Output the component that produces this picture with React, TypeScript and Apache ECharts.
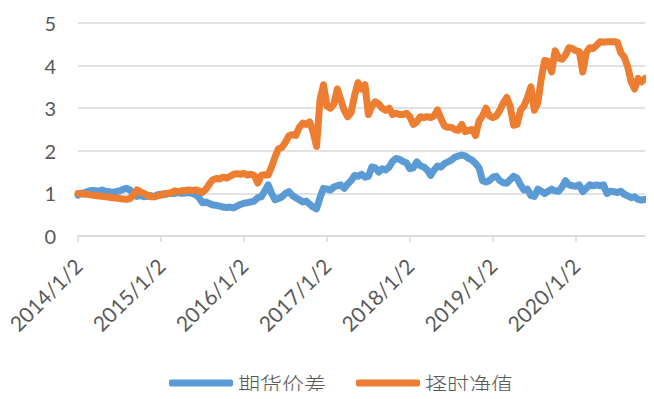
import React, { useEffect, useRef } from "react";
import * as echarts from "echarts";

const seriesNames = ["期货价差", "择时净值"];

// semi-monthly observation dates (2nd and 16th of each month), 2014/1/2 .. 2020/11/2
const startYear = 2014;
const pointCount = 165;
const dates: string[] = [];
for (let i = 0; i < pointCount; i++) {
  const y = startYear + Math.floor(i / 24);
  const m = Math.floor((i % 24) / 2) + 1;
  const d = i % 2 === 0 ? 2 : 16;
  dates.push(`${y}/${m}/${d}`);
}

const spread = [
  0.96, 1.0, 1.02, 1.05, 1.07, 1.06, 1.05, 1.08, 1.05, 1.04, 1.03, 1.04,
  1.06, 1.09, 1.12, 1.08, 1.0, 0.93, 0.95, 0.92, 0.93, 0.95, 0.92, 0.97,
  0.98, 0.97, 0.99, 1.0, 1.0, 1.02, 1.0, 1.01, 1.02, 1.0, 0.97, 0.9,
  0.78, 0.8, 0.76, 0.73, 0.72, 0.7, 0.68, 0.67, 0.68, 0.66, 0.7, 0.74,
  0.77, 0.78, 0.8, 0.82, 0.9, 0.92, 1.05, 1.2, 1.0, 0.85, 0.88, 0.92,
  1.0, 1.04, 0.95, 0.9, 0.85, 0.8, 0.82, 0.75, 0.68, 0.64, 0.9, 1.12,
  1.1, 1.08, 1.15, 1.18, 1.2, 1.12, 1.22, 1.3, 1.42, 1.4, 1.45, 1.38,
  1.4, 1.62, 1.6, 1.5, 1.58, 1.55, 1.62, 1.75, 1.82, 1.8, 1.75, 1.72,
  1.58, 1.6, 1.74, 1.65, 1.62, 1.55, 1.42, 1.55, 1.64, 1.62, 1.7, 1.74,
  1.78, 1.85, 1.88, 1.9, 1.88, 1.82, 1.78, 1.7, 1.6, 1.3, 1.27, 1.3,
  1.38, 1.4, 1.3, 1.25, 1.24, 1.32, 1.4, 1.36, 1.2, 1.08, 1.1, 0.95,
  0.93, 1.1, 1.05, 1.0, 1.05, 1.1, 1.06, 1.05, 1.15, 1.3, 1.2, 1.18,
  1.17, 1.2, 1.04, 1.12, 1.2, 1.18, 1.2, 1.18, 1.2, 1.0, 1.05, 1.04,
  1.02, 1.05, 0.98, 0.94, 0.9, 0.92, 0.86, 0.84, 0.86,
];

const timingNav = [
  1.0, 0.99, 0.98, 0.98, 0.96, 0.95, 0.94, 0.93, 0.92, 0.91, 0.9, 0.89,
  0.88, 0.87, 0.86, 0.88, 0.95, 1.08, 1.04, 1.0, 0.96, 0.92, 0.92, 0.94,
  0.96, 1.0, 1.0, 1.02, 1.06, 1.04, 1.06, 1.07, 1.08, 1.07, 1.08, 1.06,
  1.02, 1.1, 1.22, 1.32, 1.35, 1.34, 1.38, 1.36, 1.4, 1.45, 1.46, 1.45,
  1.47, 1.43, 1.45, 1.42, 1.24, 1.42, 1.44, 1.43, 1.62, 1.86, 2.05, 2.08,
  2.2, 2.35, 2.38, 2.36, 2.55, 2.65, 2.62, 2.68, 2.45, 2.1, 3.2, 3.55,
  3.05, 3.0, 3.1, 3.45, 3.2, 2.95, 2.8, 2.9, 3.3, 3.6, 3.45, 3.55,
  2.85, 3.05, 3.15, 3.1, 3.0, 2.95, 3.0, 2.85, 2.88, 2.85, 2.85, 2.88,
  2.8, 2.62, 2.68, 2.8, 2.78, 2.8, 2.78, 2.82, 2.96, 2.75, 2.58, 2.55,
  2.55, 2.5, 2.48, 2.62, 2.45, 2.48, 2.5, 2.36, 2.7, 2.82, 3.0, 2.82,
  2.78, 2.82, 2.95, 3.12, 3.25, 3.05, 2.6, 2.62, 2.95, 3.05, 3.25, 3.5,
  2.95, 3.12, 3.7, 4.12, 4.1, 3.85, 4.35, 4.18, 4.15, 4.25, 4.42, 4.4,
  4.35, 4.33, 3.85, 4.3, 4.42, 4.4, 4.48, 4.56, 4.55, 4.56, 4.56, 4.56,
  4.55, 4.3, 4.2, 3.97, 3.62, 3.45, 3.7, 3.62, 3.7,
];

const yTicks = [0, 1, 2, 3, 4, 5];
const colors = ["#5B9BD5", "#ED7D31"];
const fontFamily = "Lato, 'Noto Sans CJK SC', sans-serif";

export default function App() {
  const ref = useRef<HTMLDivElement>(null);
  useEffect(() => {
    if (!ref.current) return;
    const chart = echarts.init(ref.current, undefined, { renderer: "svg" });
    const isYearStart = (_i: number, v: string) => /\/1\/2$/.test(v);
    chart.setOption({
      animation: false,
      color: colors,
      grid: { left: 78, right: 9, top: 23, bottom: 163, containLabel: false },
      legend: {
        data: seriesNames,
        left: 164,
        top: 367,
        icon: "roundRect",
        itemWidth: 64,
        itemHeight: 7,
        itemGap: 30,
        textStyle: {
          fontSize: 22,
          color: "#595959",
          fontFamily: "'Noto Sans CJK SC', sans-serif",
          fontWeight: 300,
        },
      },
      xAxis: {
        type: "category",
        data: dates,
        boundaryGap: false,
        axisLine: { show: true, lineStyle: { color: "#D9D9D9", width: 1.5 } },
        axisTick: {
          show: true,
          interval: isYearStart,
          length: 6,
          lineStyle: { color: "#D9D9D9", width: 1.5 },
        },
        axisLabel: {
          interval: isYearStart,
          rotate: 45,
          margin: 26,
          fontSize: 21,
          color: "#595959",
          fontFamily,
        },
        splitLine: { show: false },
      },
      yAxis: {
        type: "value",
        min: yTicks[0],
        max: yTicks[yTicks.length - 1],
        interval: 1,
        axisLine: { show: false },
        axisTick: { show: false },
        axisLabel: { fontSize: 20, color: "#595959", fontFamily, margin: 22 },
        splitLine: { lineStyle: { color: "#D9D9D9", width: 1.5 } },
      },
      series: [
        {
          name: seriesNames[0],
          type: "line",
          data: spread,
          showSymbol: false,
          symbol: "none",
          lineStyle: { width: 7, color: colors[0], cap: "round", join: "round" },
          z: 2,
        },
        {
          name: seriesNames[1],
          type: "line",
          data: timingNav,
          showSymbol: false,
          symbol: "none",
          lineStyle: { width: 7, color: colors[1], cap: "round", join: "round" },
          z: 3,
        },
      ],
    });
    return () => chart.dispose();
  }, []);
  return <div ref={ref} style={{ width: 654, height: 399, margin: -8 }} />;
}
